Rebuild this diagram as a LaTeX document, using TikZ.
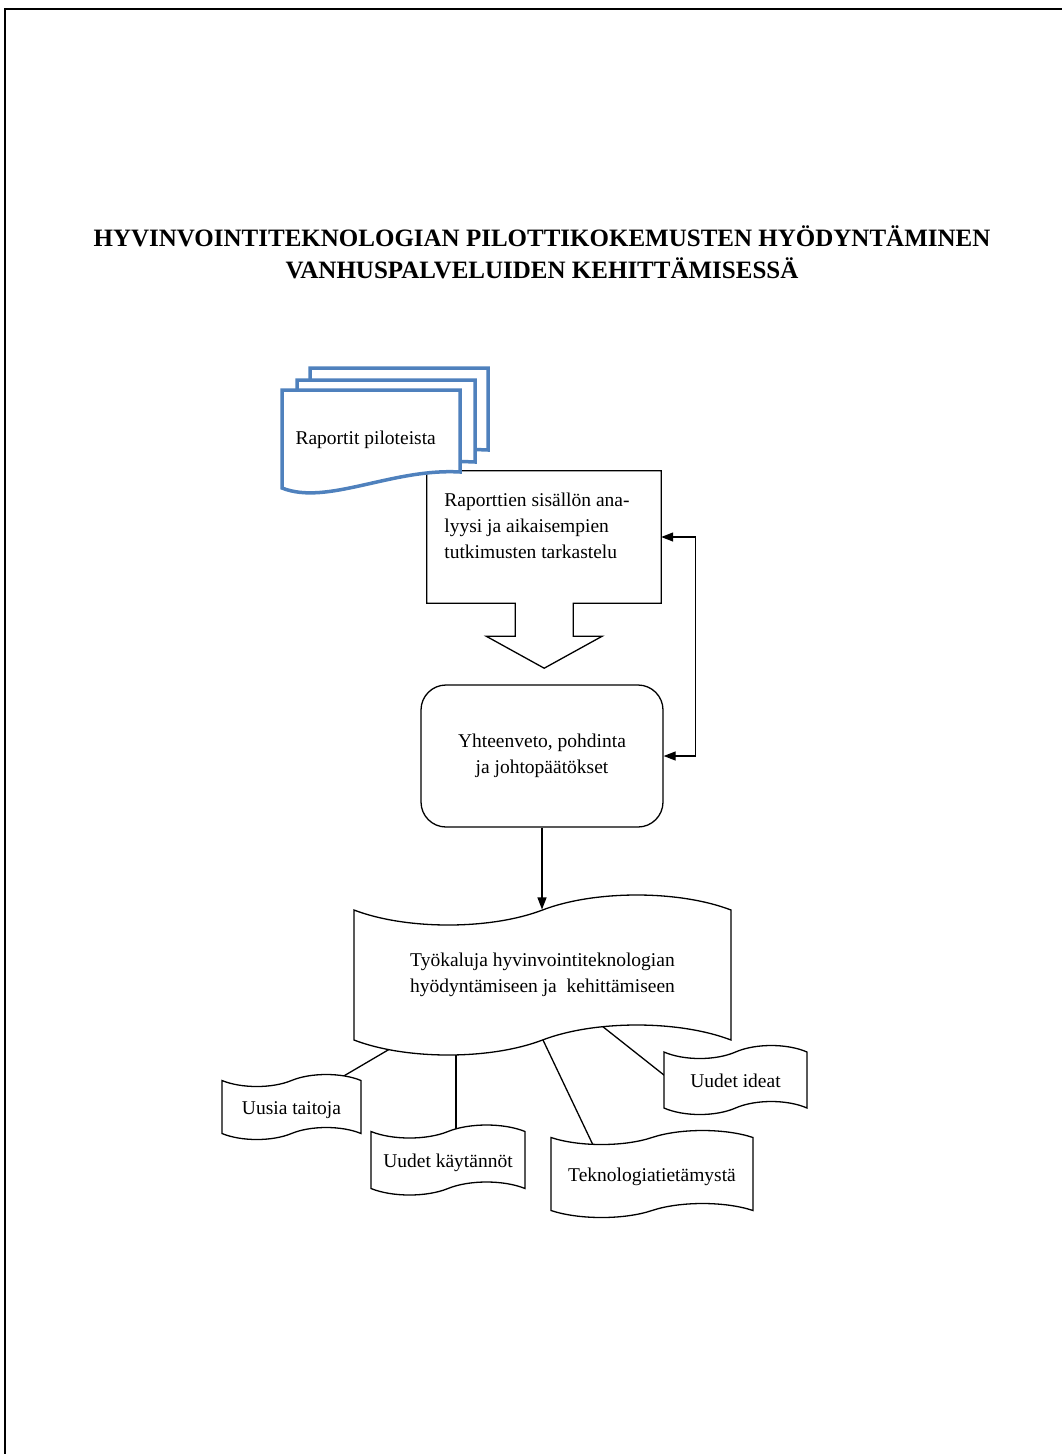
\documentclass[tikz,border=0pt]{standalone}
\usepackage{fontspec}
\setmainfont{Liberation Serif}
\usetikzlibrary{shapes,arrows,arrows.meta}
\usetikzlibrary{positioning}
\usetikzlibrary{backgrounds}
\definecolor{docblue}{RGB}{79,129,189}
\tikzstyle{outline} = [draw, line width=1.3pt]
\tikzstyle{rblock} = [rectangle, draw, rounded corners=25pt, line width=1.3pt,
    minimum width=242pt, minimum height=142pt, align=center]
\tikzstyle{flag} = [draw, shape=tape, fill=white, line width=1.3pt,
    align=center, inner sep=0pt, tape bend top=in and out,
    tape bend bottom=in and out]
\tikzstyle{small flag} = [flag, text height=19pt, text depth=4.5pt]
\tikzstyle{docpage} = [draw=docblue, fill=white, line width=3.5pt]
\tikzstyle{line} = [draw, line width=1.3pt, -{Triangle[length=12pt, width=9pt]}]
\tikzstyle{wire} = [draw, line width=1.3pt]

\begin{document}
\begin{tikzpicture}[x=1pt, y=-1pt,
    every node/.style={font=\fontsize{19.5}{26}\selectfont}]
  \useasboundingbox (0,0) rectangle (1062,1454);
  % page frame
  \draw[line width=2.5pt] (5,1454) -- (5,9) -- (1062,9);

  % title
  \node[align=center, font=\bfseries\fontsize{25}{32}\selectfont] (title)
    at (542,252) {HYVINVOINTITEKNOLOGIAN PILOTTIKOKEMUSTEN HYÖDYNTÄMINEN\\
    VANHUSPALVELUIDEN KEHITTÄMISESSÄ};

  % analysis box with arrow
  \node[minimum width=234pt, minimum height=132pt] (ana) at (544,537) {};
  \draw[outline] (ana.north west) -- (ana.north east) -- (ana.south east)
    -- ++(-88,0) -- ++(0,33) -- ++(29,0) -- ++(-58,32) -- ++(-58,-32)
    -- ++(29,0) -- ++(0,-33) -- (ana.south west) -- cycle;
  \node[anchor=west, align=left] (anatxt) at ([xshift=14pt,yshift=11pt]ana.west)
    {Raporttien sisällön ana-\\lyysi ja aikaisempien\\tutkimusten tarkastelu};

  % reports
  \foreach \dx/\dy in {28/-22, 15/-10, 0/0}
    \draw[docpage, shift={(282+\dx,390+\dy)}] (0,0) -- (178,0) -- (178,82)
      .. controls (110,78) and (45,116) .. (0,98) -- cycle;
  \node[anchor=west] (rap) at (292,440) {Raportit piloteista};

  % summary
  \node[rblock] (yht) at (542,756) {Yhteenveto, pohdinta\\ja johtopäätökset};

  % tools
  \node[flag, minimum width=377pt, minimum height=160pt, tape bend height=30pt]
    (tool) at (542.5,975) {Työkaluja hyvinvointiteknologian\\
    hyödyntämiseen ja~ kehittämiseen};
  \node[small flag, minimum width=139pt, minimum height=65pt, tape bend height=12pt]
    (taito) at (291.5,1107) {Uusia taitoja};
  \node[small flag, minimum width=154pt, minimum height=70pt, tape bend height=13pt]
    (kay) at (448,1160) {Uudet käytännöt};
  \node[small flag, minimum width=202pt, minimum height=87pt, tape bend height=14pt]
    (tek) at (652,1174) {Teknologiatietämystä};
  \node[small flag, minimum width=143pt, minimum height=69pt, tape bend height=13pt]
    (ide) at (735.5,1080) {Uudet ideat};

  % paths
  \path[line, {Triangle[length=12pt, width=9pt]}-{Triangle[length=12pt, width=9pt]}]
    (ana.east) -- ++(34,0) |- (yht.east);
  \path[line] (yht.south) -- (yht.south |- tool.north);

  \begin{pgfonlayer}{background}
    \path[wire] ([xshift=-125.5pt,yshift=-58pt]tool.center)
      -- ([xshift=33.5pt,yshift=20pt]taito.center);
    \path[wire] ([xshift=-86.5pt,yshift=-55pt]tool.center)
      -- ([xshift=8pt,yshift=10pt]kay.center);
    \path[wire] ([xshift=-9.5pt,yshift=-44pt]tool.center)
      -- ([xshift=-49pt,yshift=8pt]tek.center);
    \path[wire] ([xshift=47.5pt,yshift=-41.5pt]tool.center)
      -- ([xshift=-54.5pt,yshift=-8.5pt]ide.center);
  \end{pgfonlayer}
\end{tikzpicture}
\end{document}
